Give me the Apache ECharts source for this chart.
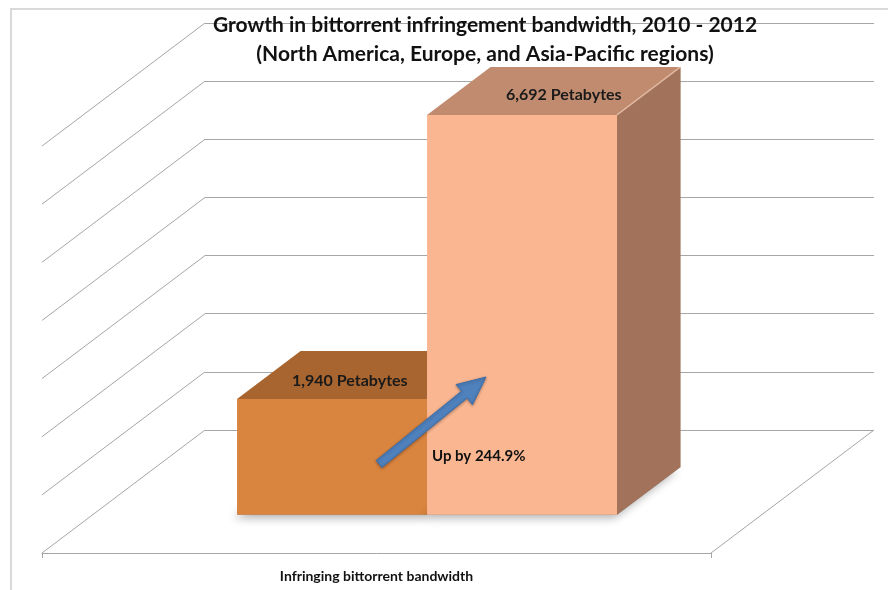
<!DOCTYPE html>
<html>
<head>
<meta charset="utf-8">
<style>
  html, body { margin: 0; padding: 0; background: #fff; }
  #chart { width: 888px; height: 590px; }
</style>
<script src="https://cdn.jsdelivr.net/npm/echarts@6/dist/echarts.min.js"></script>
</head>
<body>
<div id="chart"></div>
<script>
  // data
  var categories = ['Infringing bittorrent bandwidth'];
  var years = ['2010', '2012'];
  var bandwidth = [1940, 6692];                 // petabytes
  var barLabels = ['1,940 Petabytes', '6,692 Petabytes'];
  var wallTicks = [0, 1000, 2000, 3000, 4000, 5000, 6000, 7000];
  var growthText = 'Up by 244.9%';

  // look of the fake 3d box
  var DEPTH = [-163, 123];        // back wall -> front edge of floor
  var FRONT = 0.69, BACK = 0.30;  // bar depth inside the floor
  var BAR_W = 0.284;              // share of the category band per bar
  var HEIGHT_BOOST = 1.028;       // bars sit closer than the wall
  var faceColors = [
    { front: '#d9843f', top: '#a9652f', side: '#8d5428' },
    { front: '#fab691', top: '#c08b6f', side: '#a2735a' }
  ];
  var labelShift = [[-14, 6], [10, 4]];
  var gridColor = '#a6a6a6';
  var font = 'Lato, "Open Sans", sans-serif';

  function shift(p, f) {
    return [p[0] + DEPTH[0] * f, p[1] + DEPTH[1] * f];
  }

  function renderWall(params, api) {
    var cs = params.coordSys;
    var y = api.coord([0, api.value(1)])[1];
    var kids = [{
      type: 'line',
      shape: { x1: cs.x, y1: y, x2: cs.x + DEPTH[0], y2: y + DEPTH[1] },
      style: { stroke: gridColor, lineWidth: 1 }
    }];
    if (api.value(1) === 0) {
      // right edge of the floor
      kids.push({
        type: 'line',
        shape: { x1: cs.x + cs.width, y1: y, x2: cs.x + cs.width + DEPTH[0], y2: y + DEPTH[1] },
        style: { stroke: gridColor, lineWidth: 1 }
      });
    }
    return { type: 'group', children: kids };
  }

  function renderBar(params, api) {
    var idx = api.value(2);
    var base = api.coord([api.value(0), 0]);
    var top = api.coord([api.value(0), api.value(1)]);
    var band = api.size([1, 0])[0];
    var w = band * BAR_W;
    var xl = base[0] - w + idx * w, xr = xl + w;
    var yb = base[1];
    var yt = yb - (base[1] - top[1]) * HEIGHT_BOOST;
    var c = faceColors[idx];

    var fbl = shift([xl, yb], FRONT), fbr = shift([xr, yb], FRONT);
    var ftl = shift([xl, yt], FRONT), ftr = shift([xr, yt], FRONT);
    var bbl = shift([xl, yb], BACK), bbr = shift([xr, yb], BACK);
    var btl = shift([xl, yt], BACK), btr = shift([xr, yt], BACK);

    var mid = [(ftl[0] + ftr[0] + btl[0] + btr[0]) / 4, (ftl[1] + btl[1]) / 2];

    return {
      type: 'group',
      children: [
        { // soft shadow on the floor
          type: 'polygon',
          shape: { points: [fbl, fbr, bbr, bbl] },
          style: { fill: 'rgba(90,90,90,0.6)', shadowBlur: 10, shadowOffsetX: -3, shadowOffsetY: 3, shadowColor: 'rgba(0,0,0,0.55)' }
        },
        { type: 'polygon', shape: { points: [fbr, bbr, btr, ftr] }, style: { fill: c.side } },
        { type: 'polygon', shape: { points: [ftl, ftr, btr, btl] }, style: { fill: c.top } },
        { type: 'polygon', shape: { points: [fbl, fbr, ftr, ftl] }, style: { fill: c.front } },
        {
          type: 'line',
          shape: { x1: ftr[0], y1: ftr[1], x2: btr[0], y2: btr[1] },
          style: { stroke: 'rgba(255,220,200,0.5)', lineWidth: 1.5 }
        },
        {
          type: 'text',
          x: mid[0] + labelShift[idx][0],
          y: mid[1] + labelShift[idx][1],
          style: {
            text: barLabels[idx], fill: '#1a1a1a', font: 'bold 16px ' + font,
            align: 'center', verticalAlign: 'middle'
          }
        }
      ]
    };
  }

  // arrow annotation, tail -> tip
  function arrowPoints(t, h, half, headLen, headHalf) {
    var dx = h[0] - t[0], dy = h[1] - t[1];
    var len = Math.sqrt(dx * dx + dy * dy);
    var ux = dx / len, uy = dy / len, nx = -uy, ny = ux;
    var b = [h[0] - ux * headLen, h[1] - uy * headLen];
    return [
      [t[0] + nx * half, t[1] + ny * half],
      [b[0] + nx * half, b[1] + ny * half],
      [b[0] + nx * headHalf, b[1] + ny * headHalf],
      h,
      [b[0] - nx * headHalf, b[1] - ny * headHalf],
      [b[0] - nx * half, b[1] - ny * half],
      [t[0] - nx * half, t[1] - ny * half]
    ];
  }

  var option = {
    animation: false,
    backgroundColor: '#fff',
    title: {
      text: 'Growth in bittorrent infringement bandwidth, 2010 - 2012\n(North America, Europe, and Asia-Pacific regions)',
      left: 485,
      textAlign: 'center',
      top: 11,
      padding: 0,
      textStyle: {
        fontFamily: font, fontSize: 21, fontWeight: 'bold', color: '#111',
        lineHeight: 29, backgroundColor: '#fff', padding: [0, 5]
      }
    },
    grid: [
      { left: 205, right: 14, top: 23, bottom: 160 },   // back wall
      { left: 42, right: 177, top: 400, bottom: 37 }    // front edge of floor
    ],
    xAxis: [
      {
        type: 'category', gridIndex: 0, data: categories,
        axisLine: { show: false }, axisTick: { show: false }, axisLabel: { show: false }
      },
      {
        type: 'category', gridIndex: 1, data: categories,
        axisLine: { lineStyle: { color: gridColor, width: 1 } },
        axisTick: { show: true, length: 5, lineStyle: { color: gridColor } },
        axisLabel: { margin: 16, color: '#111', fontFamily: font, fontSize: 14, fontWeight: 'bold' }
      }
    ],
    yAxis: [
      {
        type: 'value', gridIndex: 0, min: 0, max: 7000, interval: 1000,
        axisLine: { show: false }, axisTick: { show: false }, axisLabel: { show: false },
        splitLine: { show: true, lineStyle: { color: gridColor, width: 1 } }
      },
      { type: 'value', gridIndex: 1, show: false, splitLine: { show: false } }
    ],
    series: [
      {
        name: 'wall',
        type: 'custom',
        xAxisIndex: 0, yAxisIndex: 0,
        clip: false,
        silent: true,
        renderItem: renderWall,
        data: wallTicks.map(function (t) { return [0, t]; })
      },
      {
        name: 'bandwidth',
        type: 'custom',
        xAxisIndex: 0, yAxisIndex: 0,
        clip: false,
        renderItem: renderBar,
        data: bandwidth.map(function (v, i) { return [0, v, i, years[i]]; })
      }
    ],
    graphic: [
      {
        type: 'polygon', z: 100,
        shape: { points: arrowPoints([379, 464], [486, 377], 4.5, 28, 13) },
        style: { fill: '#4f81bd', stroke: '#3f6fa8', lineWidth: 1, shadowBlur: 3, shadowColor: 'rgba(0,0,0,0.3)', shadowOffsetY: 1 }
      },
      {
        type: 'text', z: 100, left: 432, top: 449,
        style: { text: growthText, fill: '#111', font: 'bold 15px ' + font }
      },
      {
        type: 'rect', z: 100, silent: true,
        shape: { x: 11, y: 9, width: 1000, height: 1000 },
        style: { fill: 'none', stroke: '#d9d9d9', lineWidth: 2 }
      }
    ]
  };

  var myChart = echarts.init(document.getElementById('chart'));
  myChart.setOption(option);

  window.addEventListener('resize', function () {
    myChart.resize();
  });
</script>
</body>
</html>
